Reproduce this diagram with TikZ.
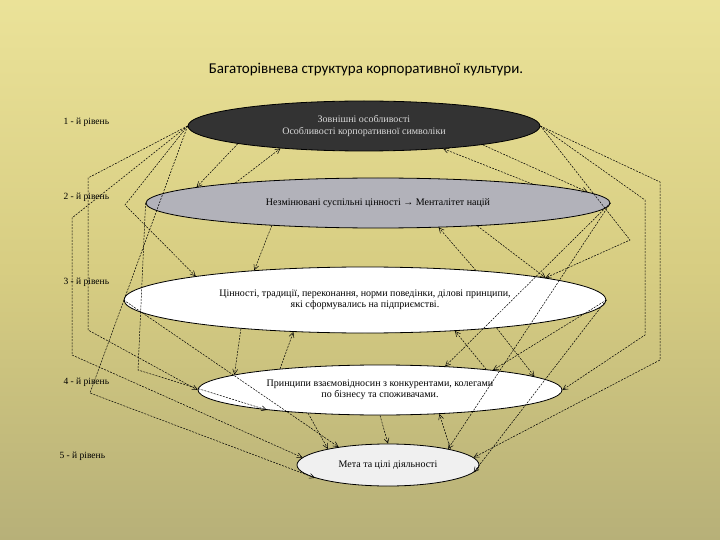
\documentclass[tikz,border=0pt]{standalone}
\usepackage{fontspec}
\setmainfont{Liberation Serif}
\newfontfamily\titlefont{Carlito}
\usetikzlibrary{shapes.geometric,arrows.meta}
\definecolor{bgA}{RGB}{246,238,165}
\definecolor{bgB}{RGB}{215,205,130}
\definecolor{bgC}{RGB}{165,160,115}
\definecolor{grayE}{RGB}{178,178,186}
\begin{document}
\begin{tikzpicture}[x=1pt,y=-1pt,
  lvl/.style={ellipse,draw=black,line width=0.8pt,inner sep=0pt,font=\fontsize{10}{11.5}\selectfont,align=center},
  lab/.style={anchor=west,font=\fontsize{9.5}{10}\selectfont},
  con/.style={dashed,dash pattern=on 2pt off 1.2pt,line width=0.5pt,-{Straight Barb[length=5pt,width=5pt]}},
  wire/.style={line width=0.5pt}]
\useasboundingbox (0,0) rectangle (720,540);
\begin{scope}
\clip (0,0) rectangle (720,540);
\shade[shading=axis,shading angle=-45,top color=bgA,bottom color=bgC,middle color=bgB] (-150,-150) rectangle (870,690);
\end{scope}
\node[font=\titlefont\fontsize{15}{17}\selectfont] (title) at (366,70) {Багаторівнева структура корпоративної культури.};
\node[lab] (l1) at (60,122) {1 - й рівень};
\node[lab] (l2) at (60,197) {2 - й рівень};
\node[lab] (l3) at (60,282) {3 - й рівень};
\node[lab] (l4) at (60,382) {4 - й рівень};
\node[lab] (l5) at (56,456) {5 - й рівень};
\node[lvl,fill=black!80,text=white!85!black,minimum width=352pt,minimum height=50pt] (e1) at (364,126) {Зовнішні особливості\\Особливості корпоративної символіки};
\node[lvl,fill=grayE,minimum width=464pt,minimum height=50pt] (e2) at (378,203) {Незмінювані суспільні цінності → Менталітет націй};
\node[lvl,fill=white,minimum width=482pt,minimum height=66pt] (e3) at (365,300) {Цінності, традиції, переконання, норми поведінки, ділові принципи,\\ які сформувались на підприємстві.};
\node[lvl,fill=white,minimum width=364pt,minimum height=50pt] (e4) at (380,390) {Принципи взаємовідносин з конкурентами, колегами\\ по бізнесу та споживачами.};
\node[lvl,fill=black!6!white,minimum width=182pt,minimum height=42pt] (e5) at (388,465) {Мета та цілі діяльності};
% adjacent level arrows
\draw[con] (e1.188.7) -- (e2.175.7);
\draw[con] (e2.172.7) -- (e1.195.6);
\draw[con] (e1.351.3) -- (e2.3.6);
\draw[con] (e2.7.3) -- (e1.344.4);
\draw[con] (e2.192.7) -- (e3.165);
\draw[con] (e3.15) -- (e2.338);
\draw[con] (e2.347.3) -- (e3.7.8);
\draw[con] (e3.193.4) -- (e4.174.6);
\draw[con] (e4.168.2) -- (e3.204.3);
\draw[con] (e4.11.8) -- (e3.341.2);
\draw[con] (e3.348) -- (e4.5.4);
\draw[con] (e4.198.2) -- (e5.165.2);
\draw[con] (e4.270) -- (e5.90);
\draw[con] (e5.14.8) -- (e4.338.5);
% left long routes
\coordinate (a1) at (72,355); \coordinate (a0) at (72,218);
\coordinate (b1) at (88,330); \coordinate (b0) at (88,178);
\coordinate (c0) at (125,205); \coordinate (d0) at (90,393);
\coordinate (f0) at (138,370);
\draw[con] (e1.west) -- (a0) -- (a1) -- (e5.175);
\draw[con] (e1.west) -- (b0) -- (b1) -- (e4.180);
\draw[con] (e1.west) -- (c0) -- (e3.172.2);
\draw[con] (e1.west) -- (d0) -- (e5.190);
\draw[con] (e2.west) -- (f0) -- (e4.190);
\draw[con] (e3.west) -- (e5.160);
% right long routes
\coordinate (g0) at (660,182); \coordinate (g1) at (660,360);
\coordinate (h0) at (645,200); \coordinate (h1) at (645,335);
\coordinate (k0) at (630,240);
\draw[con] (e1.east) -- (g0) -- (g1) -- (e5.5);
\draw[con] (e1.east) -- (h0) -- (h1) -- (e4.0);
\draw[con] (e1.east) -- (k0) -- (e3.7.8);
\draw[con] (e2.east) -- (e4.20);
\draw[con] (e2.east) -- (e5.15);
\draw[con] (e3.east) -- (e5.-5);
\draw[con] (e3.east) -- (e4.10);
\end{tikzpicture}
\end{document}
